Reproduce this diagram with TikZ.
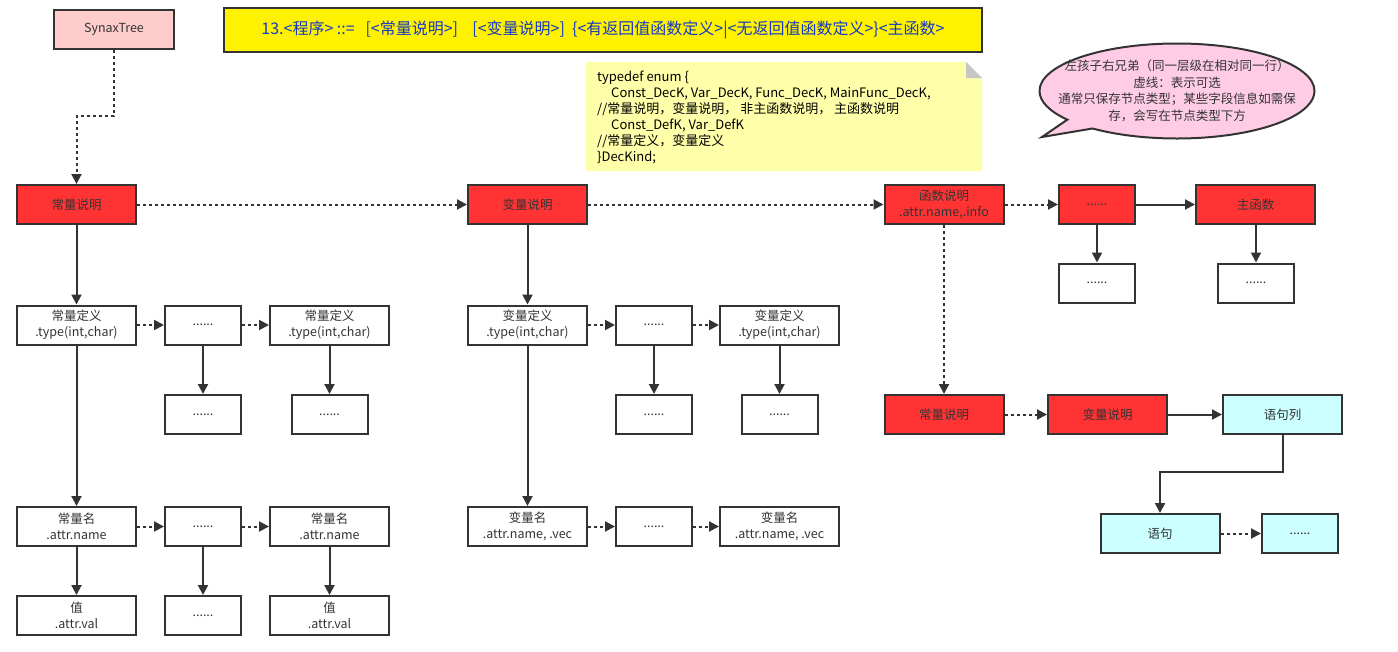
\documentclass[tikz,border=0pt]{standalone}
\usepackage{fontspec}
\setmainfont{Noto Sans CJK SC}
\usetikzlibrary{arrows.meta,shapes.callouts}
\definecolor{ln}{HTML}{333333}
\definecolor{redf}{HTML}{FF3333}
\definecolor{cyanf}{HTML}{CCFFFF}
\definecolor{pinkf}{HTML}{FFCCCC}
\definecolor{notef}{HTML}{FFFFAA}
\definecolor{callf}{HTML}{FFCCE6}
\definecolor{titletxt}{HTML}{1438C8}
\begin{document}
\begin{tikzpicture}[x=1pt,y=-1pt,
  box/.style={draw=ln,line width=2pt,inner sep=0pt,minimum height=39pt,align=center,text=ln,font=\fontsize{12.5}{16}\selectfont},
  wide/.style={box,minimum width=119pt},
  narrow/.style={box,minimum width=76pt},
  redbox/.style={wide,fill=redf},
  cyanbox/.style={fill=cyanf},
  arr/.style={draw=ln,line width=2pt,-{Triangle[length=10pt,width=10pt]}},
  dotarr/.style={arr,dash pattern=on 3pt off 3pt}]
\useasboundingbox (0,0) rectangle (1398,651);

% title
\node[draw=ln,line width=2pt,fill=yellow,minimum width=758pt,minimum height=44pt,inner sep=0pt,
  text=titletxt,font=\fontsize{16}{19}\selectfont] (title) at (603,30)
  {13.<程序> ::=\ \ \ [<常量说明>]\ \ \ \ [<变量说明>]\ \ \{<有返回值函数定义>|<无返回值函数定义>\}<主函数>};

% note
\fill[notef] (586,62) -- (966,62) -- (982,78) -- (982,171) -- (586,171) -- cycle;
\fill[gray!45] (966,62) -- (966,78) -- (982,78) -- cycle;
\node[anchor=north west,align=left,inner sep=0pt,text=black,font=\fontsize{13}{16}\selectfont] (note) at (597,71)
  {typedef enum \{\\
   \hspace*{14pt}Const\_DecK, Var\_DecK, Func\_DecK, MainFunc\_DecK,\\
   //常量说明，变量说明，\ 非主函数说明，\ 主函数说明\\
   \hspace*{14pt}Const\_DefK, Var\_DefK\\
   //常量定义，变量定义\\
   \}DecKind;};

% callout
\node[ellipse callout,draw=ln,line width=2pt,fill=callf,minimum width=275pt,minimum height=95pt,inner sep=0pt,
  callout absolute pointer={(1042,137)}] (call) at (1177,91) {};
\node[align=center,text=ln,inner sep=0pt,font=\fontsize{12.5}{16.5}\selectfont] (calltext) at (1177,91)
  {左孩子右兄弟（同一层级在相对同一行）\\虚线：表示可选\\通常只保存节点类型；某些字段信息如需保\\存，会写在节点类型下方};

% nodes
\node[box,minimum width=120pt,fill=pinkf] (st) at (114,29.5) {SynaxTree};

\node[redbox] (cs1) at (76.5,204.5) {常量说明};
\node[redbox] (vs1) at (527.5,204.5) {变量说明};
\node[redbox] (fs) at (944,204.5) {函数说明\\.attr.name,.info};
\node[narrow,fill=redf] (fd) at (1097,204.5) {......};
\node[redbox] (mf) at (1255.5,204.5) {主函数};
\node[narrow] (fdd) at (1097,283) {......};
\node[narrow] (mfd) at (1256,283) {......};

\node[wide] (cd1) at (76.5,325) {常量定义\\.type(int,char)};
\node[narrow] (cd2) at (203,325) {......};
\node[wide] (cd3) at (329.5,325) {常量定义\\.type(int,char)};
\node[wide] (vd1) at (527.5,325) {变量定义\\.type(int,char)};
\node[narrow] (vd2) at (654,325) {......};
\node[wide] (vd3) at (779.5,325) {变量定义\\.type(int,char)};

\node[narrow] (c3a) at (203,414.5) {......};
\node[narrow] (c3b) at (329.5,414.5) {......};
\node[narrow] (v3a) at (654,414.5) {......};
\node[narrow] (v3b) at (779.5,414.5) {......};

\node[redbox] (cs2) at (944,414.5) {常量说明};
\node[redbox] (vs2) at (1107.5,414.5) {变量说明};
\node[wide,cyanbox] (stl) at (1282.5,414.5) {语句列};
\node[wide,cyanbox] (stm) at (1160,533.5) {语句};
\node[narrow,cyanbox] (stmd) at (1300,533.5) {......};

\node[wide] (cn1) at (76.5,526.5) {常量名\\.attr.name};
\node[narrow] (cn2) at (203,526.5) {......};
\node[wide] (cn3) at (329.5,526.5) {常量名\\.attr.name};
\node[wide] (vn1) at (527.5,526.5) {变量名\\.attr.name, .vec};
\node[narrow] (vn2) at (654,526.5) {......};
\node[wide] (vn3) at (779.5,526.5) {变量名\\.attr.name, .vec};

\node[wide] (val1) at (76.5,615.5) {值\\.attr.val};
\node[narrow] (val2) at (203,615.5) {......};
\node[wide] (val3) at (329.5,615.5) {值\\.attr.val};

% connectors
\draw[dotarr] (st.south) -- ++(0,66) -| (cs1.north);
\draw[dotarr] (cs1) -- (vs1);
\draw[dotarr] (vs1) -- (fs);
\draw[dotarr] (fs) -- (fd);
\draw[arr] (fd) -- (mf);
\draw[arr] (fd) -- (fdd);
\draw[arr] (mf.south -| mfd.north) -- (mfd);
\draw[dotarr] (fs) -- (cs2);
\draw[dotarr] (cs2) -- (vs2);
\draw[arr] (vs2) -- (stl);
\draw[arr] (stl.south) -- ++(0,37) -| (stm.north);
\draw[dotarr] (stm) -- (stmd);

\draw[arr] (cs1) -- (cd1);
\draw[dotarr] (cd1) -- (cd2);
\draw[dotarr] (cd2) -- (cd3);
\draw[arr] (cd2) -- (c3a);
\draw[arr] (cd3) -- (c3b);
\draw[arr] (cd1) -- (cn1);
\draw[dotarr] (cn1) -- (cn2);
\draw[dotarr] (cn2) -- (cn3);
\draw[arr] (cn1) -- (val1);
\draw[arr] (cn2) -- (val2);
\draw[arr] (cn3) -- (val3);

\draw[arr] (vs1) -- (vd1);
\draw[dotarr] (vd1) -- (vd2);
\draw[dotarr] (vd2) -- (vd3);
\draw[arr] (vd2) -- (v3a);
\draw[arr] (vd3) -- (v3b);
\draw[arr] (vd1) -- (vn1);
\draw[dotarr] (vn1) -- (vn2);
\draw[dotarr] (vn2) -- (vn3);
\end{tikzpicture}
\end{document}
